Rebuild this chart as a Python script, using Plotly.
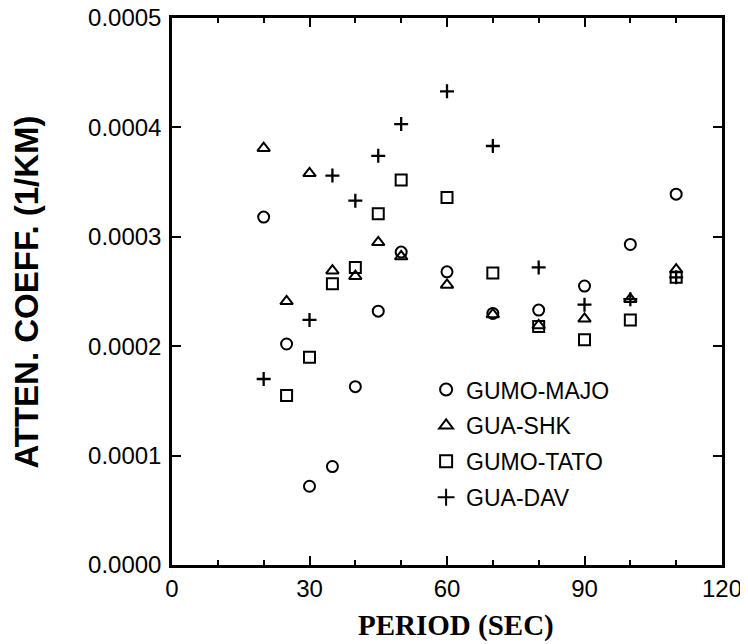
import plotly.graph_objects as go

period_majo = [20, 25, 30, 35, 40, 45, 50, 60, 70, 80, 90, 100, 110]
atten_majo = [3.18e-4, 2.02e-4, 0.72e-4, 0.90e-4, 1.63e-4, 2.32e-4, 2.86e-4, 2.68e-4, 2.30e-4, 2.33e-4, 2.55e-4, 2.93e-4, 3.39e-4]

period_shk = [20, 25, 30, 35, 40, 45, 50, 60, 70, 80, 90, 100, 110]
atten_shk = [3.81e-4, 2.41e-4, 3.58e-4, 2.69e-4, 2.64e-4, 2.95e-4, 2.82e-4, 2.56e-4, 2.29e-4, 2.19e-4, 2.25e-4, 2.43e-4, 2.70e-4]

period_tato = [25, 30, 35, 40, 45, 50, 60, 70, 80, 90, 100, 110]
atten_tato = [1.55e-4, 1.90e-4, 2.57e-4, 2.72e-4, 3.21e-4, 3.52e-4, 3.36e-4, 2.67e-4, 2.18e-4, 2.06e-4, 2.24e-4, 2.63e-4]

period_dav = [20, 30, 35, 40, 45, 50, 60, 70, 80, 90, 100, 110]
atten_dav = [1.70e-4, 2.24e-4, 3.56e-4, 3.33e-4, 3.74e-4, 4.03e-4, 4.33e-4, 3.83e-4, 2.72e-4, 2.38e-4, 2.43e-4, 2.63e-4]

series_names = ["GUMO-MAJO", "GUA-SHK", "GUMO-TATO", "GUA-DAV"]
x_ticks = [0, 30, 60, 90, 120]
y_ticks = [0.0, 0.0001, 0.0002, 0.0003, 0.0004, 0.0005]

fig = go.Figure()
specs = [
    (period_majo, atten_majo, "circle-open", 11, 2),
    (period_shk, atten_shk, "triangle-up-open", 11, 2),
    (period_tato, atten_tato, "square-open", 11, 2),
    (period_dav, atten_dav, "cross-thin-open", 10, 2.3),
]
for name, (xs, ys, sym, sz, lw) in zip(series_names, specs):
    fig.add_trace(go.Scatter(
        x=xs, y=ys, mode="markers", name=name, legendgroup=name,
        marker=dict(symbol=sym, size=sz, color="black",
                    line=dict(color="black", width=lw)),
    ))

axis_common = dict(
    showline=True, linecolor="black", linewidth=2.5, mirror="ticks",
    ticks="inside", ticklen=9, tickwidth=2, tickcolor="black",
    showgrid=False, zeroline=False, automargin=False,
    ticklabeloverflow="allow",
    tickfont=dict(family="Arial", size=24, color="black"),
)

fig.update_xaxes(
    range=[0, 120], tickvals=x_ticks, ticktext=[str(v) for v in x_ticks],
    minor=dict(dtick=10, ticks="inside", ticklen=5, tickwidth=1.5, tickcolor="black", showgrid=False),
    **axis_common,
)
fig.update_yaxes(
    range=[0, 0.0005], tickvals=y_ticks, ticktext=[f"{v:.4f}" for v in y_ticks],
    ticklabelstandoff=3,
    **axis_common,
)

fig.add_annotation(
    text="<b>PERIOD (SEC)</b>", xref="paper", yref="paper", x=0.517, y=-0.1115,
    xanchor="center", yanchor="middle", showarrow=False,
    font=dict(family="Liberation Serif", size=29, color="black"),
)
fig.add_annotation(
    text="<b>ATTEN. COEFF. (1/KM)</b>", xref="paper", yref="paper", x=-0.2636, y=0.498,
    xanchor="center", yanchor="middle", textangle=-90, showarrow=False,
    font=dict(family="Arial", size=33, color="black"),
)

fig.update_layout(
    width=748, height=644,
    margin=dict(l=164, r=34, t=10, b=87),
    plot_bgcolor="white", paper_bgcolor="white",
    showlegend=True,
    legend=dict(x=0.462, y=0.36, xanchor="left", yanchor="top",
                font=dict(family="Arial", size=23, color="black"),
                bgcolor="rgba(0,0,0,0)", tracegroupgap=3, itemsizing="constant"),
)

fig.write_html("out.html")
